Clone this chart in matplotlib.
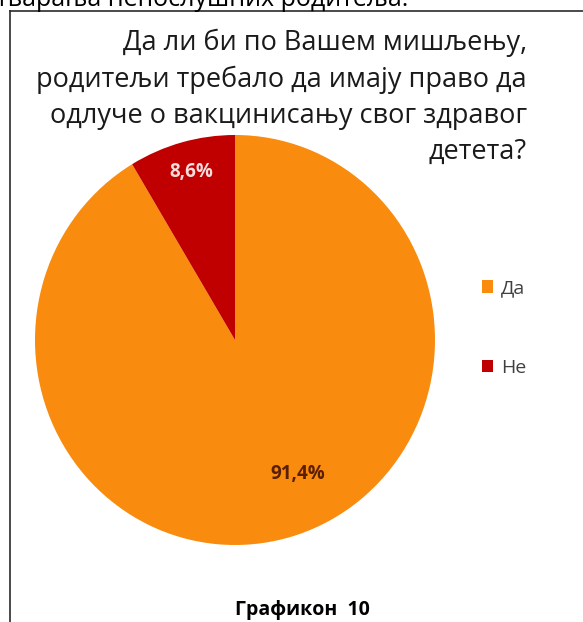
import matplotlib
matplotlib.use('agg')
from matplotlib import pyplot as plt
from matplotlib.lines import Line2D

plt.rcParams['font.family'] = ['Open Sans', 'DejaVu Sans']

labels = ['Да', 'Не']
values = [91.4, 8.6]
colors = ['#F98B0E', '#C00000']
pct_colors = ['#5A1E00', '#F6DCDC']
title_lines = ['Да ли би по Вашем мишљењу,',
               'родитељи требало да имају право да',
               'одлуче о вакцинисању свог здравог',
               'детета?']
caption = 'Графикон  10'
cut_text = 'тварања непослушних родитеља.'

W, H = 583, 622
fig = plt.figure(figsize=(W / 100, H / 100), dpi=100)

def fx(px):
    return px / W

def fy(py):
    return 1 - py / H

# pie axes: centre (235, 340) px, radii 200 x 205 px
ax = fig.add_axes([fx(35), fy(545), 400 / W, 410 / H])
wedges, texts, autotexts = ax.pie(
    values, colors=colors, startangle=90, counterclock=False,
    autopct=lambda p: ('%.1f%%' % p).replace('.', ','),
    textprops=dict(fontsize=13.5, fontweight='bold'))
ax.set_aspect('auto')
ax.set_xlim(-1, 1)
ax.set_ylim(-1, 1)
ax.axis('off')

label_pos = [(0.315, -0.655), (-0.22, 0.82)]
for t, c, p in zip(autotexts, pct_colors, label_pos):
    t.set_color(c)
    t.set_position(p)

leg = fig.legend(wedges, labels, loc='upper left',
                 bbox_to_anchor=(fx(464), fy(262)), frameon=False,
                 handlelength=0.6, handleheight=0.6, handletextpad=0.4,
                 labelspacing=3.15, fontsize=14)
for t in leg.get_texts():
    t.set_color('#404040')

# title, right aligned
baselines = [50, 87, 123, 159]
for line, b in zip(title_lines, baselines):
    fig.text(fx(527), fy(b), line, ha='right', va='baseline',
             fontsize=19.5, color='#1a1a1a')

fig.text(fx(302), fy(610), caption, ha='center', va='center',
         fontsize=14, fontweight='bold', color='black')

# text cut off by the top of the picture
fig.text(fx(-4), fy(6), cut_text, ha='left', va='baseline',
         fontsize=18, color='black')

# frame (top and left sides only)
fig.add_artist(Line2D([fx(10), 1], [fy(11), fy(11)], transform=fig.transFigure,
                      color='#2b2b2b', lw=1.2))
fig.add_artist(Line2D([fx(10), fx(10)], [0, fy(11)], transform=fig.transFigure,
                      color='#2b2b2b', lw=1.2))

fig.savefig('out.png', dpi=100)
